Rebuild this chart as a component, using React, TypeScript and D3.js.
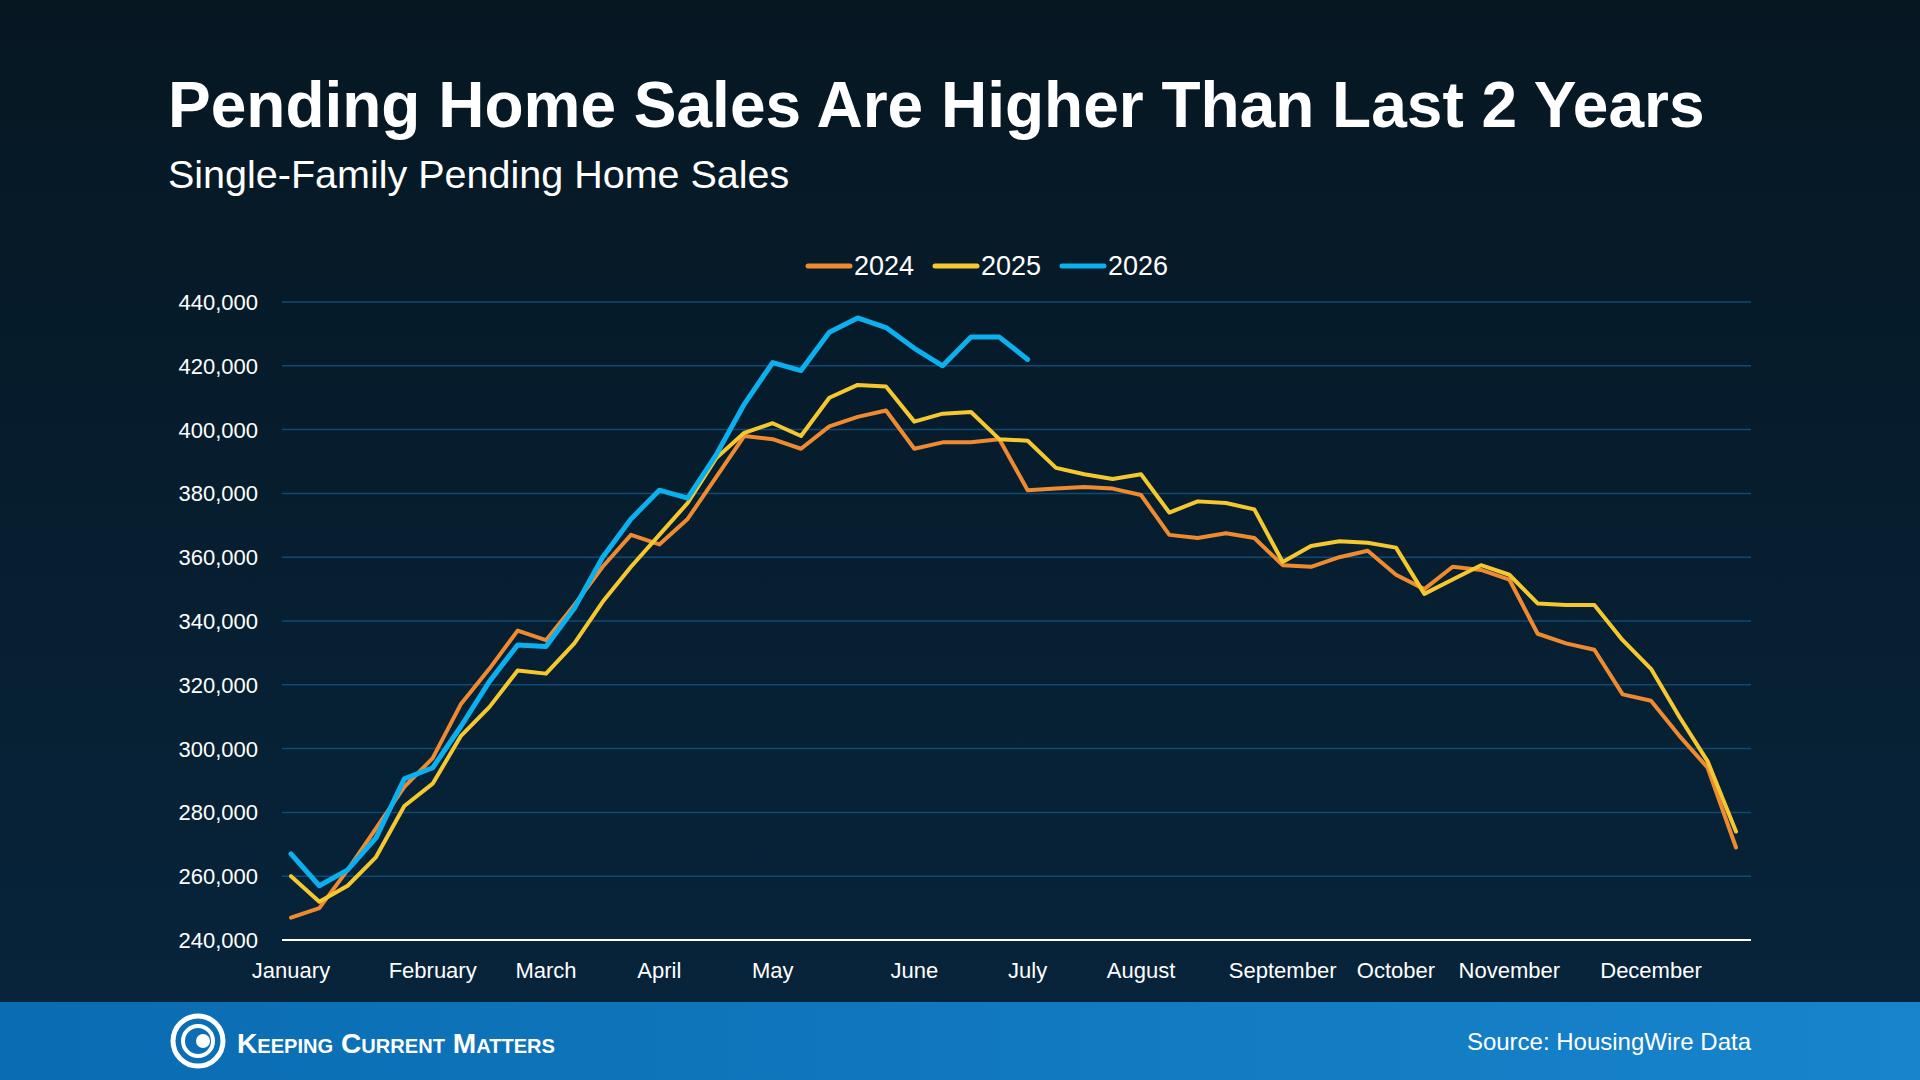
import * as d3 from 'd3';

const months = ['January', 'February', 'March', 'April', 'May', 'June', 'July', 'August', 'September', 'October', 'November', 'December'];
const monthWeek = [0, 5, 9, 13, 17, 22, 26, 30, 35, 39, 43, 48];
const yTicks = [240000, 260000, 280000, 300000, 320000, 340000, 360000, 380000, 400000, 420000, 440000];

const sales2024 = [247, 250, 262, 275, 288, 297, 314, 325, 337, 334, 345, 357, 367, 364, 372, 385, 398, 397, 394, 401, 404, 406, 394, 396, 396, 397, 381, 381.5, 382, 381.5, 379.5, 367, 366, 367.5, 366, 357.5, 357, 360, 362, 354.5, 350, 357, 356, 353, 336, 333, 331, 317, 315, 304, 294, 269];
const sales2025 = [260, 252, 257, 266, 282, 289, 304, 313, 324.5, 323.5, 333, 346, 357, 367, 377, 391, 399, 402, 398, 410, 414, 413.5, 402.5, 405, 405.5, 397, 396.5, 388, 386, 384.5, 386, 374, 377.5, 377, 375, 358.5, 363.5, 365, 364.5, 363, 348.5, 353, 357.5, 354.5, 345.5, 345, 345, 334, 325, 310, 296, 274];
const sales2026 = [267, 257, 262, 272, 290.5, 294, 307, 321, 332.5, 332, 344, 360, 372, 381, 378.5, 392, 408, 421, 418.5, 430.5, 435, 432, 425.5, 420, 429, 429, 422];

const series = [
  { name: '2024', color: '#ee8a30', values: sales2024 },
  { name: '2025', color: '#f5c830', values: sales2025 },
  { name: '2026', color: '#0bb0ee', values: sales2026 },
];

const W = 1920, H = 1080;
const font = 'Arial, "Liberation Sans", Helvetica, sans-serif';

export default function App() {
  const x = d3.scaleLinear().domain([0, 51]).range([291, 1736]);
  const y = d3.scaleLinear().domain([240000, 440000]).range([940, 302]);
  const line = d3.line<number>().x((_, i) => x(i)).y(d => y(d * 1000));
  const fmt = d3.format(',');

  return (
    <svg width={W} height={H} style={{ position: 'absolute', left: 0, top: 0 }} fontFamily={font}>
      <defs>
        <linearGradient id="bg" x1="0" y1="0" x2="0" y2="1">
          <stop offset="0" stopColor="#061722" />
          <stop offset="1" stopColor="#07253d" />
        </linearGradient>
        <linearGradient id="ft" x1="0" y1="0" x2="1" y2="0">
          <stop offset="0" stopColor="#0a6cb2" />
          <stop offset="1" stopColor="#1784cb" />
        </linearGradient>
      </defs>
      <rect width={W} height={H} fill="url(#bg)" />
      <text x={168} y={127} fill="#fff" fontSize={64} fontWeight="bold">Pending Home Sales Are Higher Than Last 2 Years</text>
      <text x={168} y={188} fill="#fff" fontSize={39.5}>Single-Family Pending Home Sales</text>

      {yTicks.map(t => (
        <g key={t}>
          {t > 240000 && <line x1={282} x2={1751} y1={y(t)} y2={y(t)} stroke="#0f4a72" strokeWidth={1.5} />}
          <text x={258} y={y(t) + 8} fill="#fff" fontSize={22} textAnchor="end">{fmt(t)}</text>
        </g>
      ))}
      <line x1={282} x2={1751} y1={940} y2={940} stroke="#fff" strokeWidth={2} />
      {months.map((m, i) => (
        <text key={m} x={x(monthWeek[i])} y={978} fill="#fff" fontSize={22} textAnchor="middle">{m}</text>
      ))}

      {series.map(s => (
        <path key={s.name} d={line(s.values) || ''} fill="none" stroke={s.color} strokeWidth={s.name === '2026' ? 5 : 4} strokeLinejoin="round" strokeLinecap="round" />
      ))}

      {series.map((s, i) => (
        <g key={s.name} transform={`translate(${808 + i * 127},266)`}>
          <line x1={0} x2={42} y1={0} y2={0} stroke={s.color} strokeWidth={5} strokeLinecap="round" />
          <text x={46} y={9} fill="#fff" fontSize={27}>{s.name}</text>
        </g>
      ))}

      <rect x={0} y={1002} width={W} height={78} fill="url(#ft)" />
      <g transform="translate(198,1041)">
        <circle r={25} fill="none" stroke="#fff" strokeWidth={5} />
        <circle r={15} fill="none" stroke="#fff" strokeWidth={4} />
        <circle cx={5} cy={0} r={7} fill="#fff" />
      </g>
      <text x={237} y={1053} fill="#fff" fontSize={28} fontWeight="bold" style={{ fontVariant: 'small-caps' }} textLength={318} lengthAdjust="spacingAndGlyphs">Keeping Current Matters</text>
      <text x={1751} y={1050} fill="#fff" fontSize={24} textAnchor="end">Source: HousingWire Data</text>
    </svg>
  );
}
